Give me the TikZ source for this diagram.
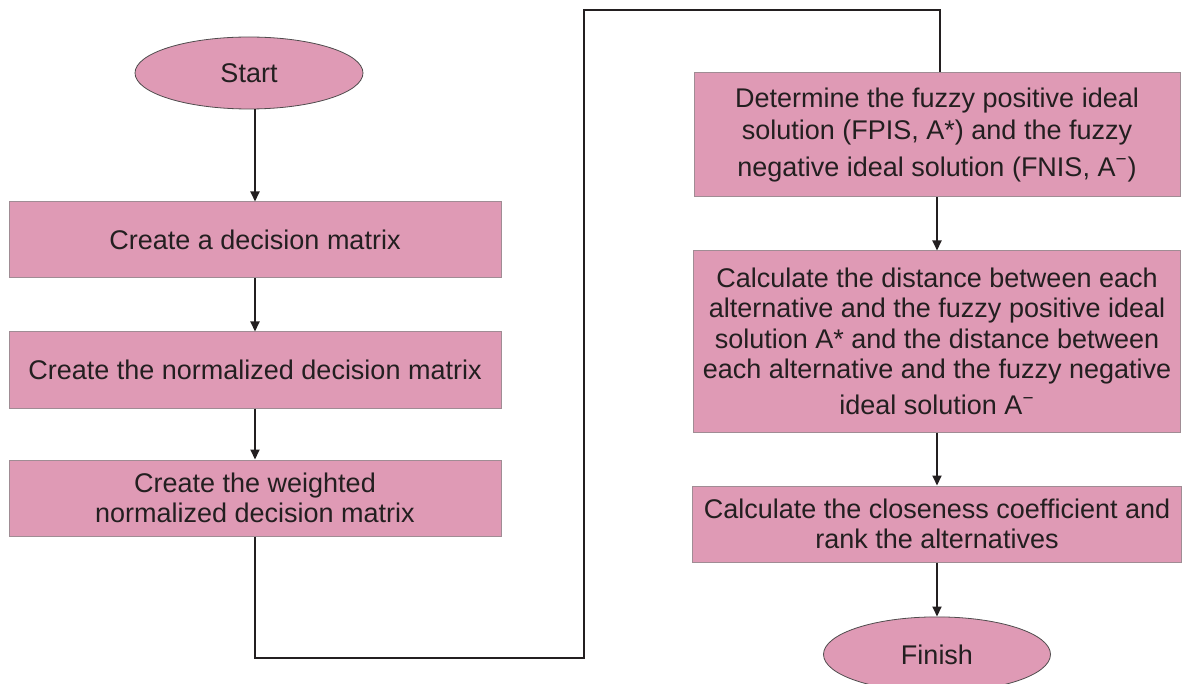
\documentclass[tikz,border=0pt]{standalone}
\usepackage{fontspec}
\setmainfont{Liberation Sans}
\usepackage{xcolor}
\usetikzlibrary{positioning,shapes,arrows.meta}
\definecolor{boxpink}{RGB}{223,154,181}
\definecolor{boxline}{RGB}{160,140,148}
\definecolor{inkgray}{RGB}{35,31,32}
\tikzstyle{process}=[rectangle, draw=boxline, fill=boxpink, text=inkgray, align=center, font=\fontsize{13.5}{15.2}\selectfont, minimum width=246pt, minimum height=38pt, inner sep=2pt, line width=0.5pt]
\tikzstyle{terminal}=[ellipse, draw=inkgray!80, line width=0.4pt, fill=boxpink, text=inkgray, font=\fontsize{13.5}{15.2}\selectfont, minimum width=114pt, minimum height=36pt, inner sep=0pt]
\tikzset{>={Triangle[length=5pt,width=4.5pt]}}

\begin{document}
\begin{tikzpicture}[x=1pt, y=1pt, line width=1pt, draw=inkgray, node distance=26.5pt]

    \useasboundingbox (0,0) rectangle (592,-342);

    % left column
    \node(start)[terminal] at (124.5,-36.5) {Start};
    \node(decision)[process] at (127.5,-120) {Create a decision matrix};
    \node(normalized)[process, below=of decision]{Create the normalized decision matrix};
    \node(weighted)[process, below=25.5pt of normalized]{Create the weighted\\normalized decision matrix};

    % right column
    \node(ideal)[process, minimum width=243pt, minimum height=62pt] at (468.5,-67.5) {Determine the fuzzy positive ideal\\[0.8pt]solution (FPIS, A*) and the fuzzy\\[3pt]negative ideal solution (FNIS, A\textsuperscript{−})};
    \node(distance)[process, minimum width=243.5pt, minimum height=90.5pt, below=of ideal]{Calculate the distance between each\\alternative and the fuzzy positive ideal\\solution A* and the distance between\\each alternative and the fuzzy negative\\[3pt]ideal solution A\textsuperscript{−}};
    \node(closeness)[process, minimum width=244.5pt, below=of distance]{Calculate the closeness coefficient and\\rank the alternatives};
    \node(finish)[terminal, minimum width=113.5pt, minimum height=37.5pt, below=27pt of closeness]{Finish};

    \coordinate (turnlow) at (292,-329);
    \coordinate (turnhigh) at (292,-5);

    \draw [->] (start.south -| decision.north) -- (decision.north);
    \draw [->] (decision) -- (normalized);
    \draw [->] (normalized) -- (weighted);
    \draw (weighted.south) |- (turnlow) -- (turnhigh) -| ([xshift=1.5pt]ideal.north);
    \draw [->] (ideal) -- (distance);
    \draw [->] (distance) -- (closeness);
    \draw [->] (closeness) -- (finish);

\end{tikzpicture}
\end{document}
